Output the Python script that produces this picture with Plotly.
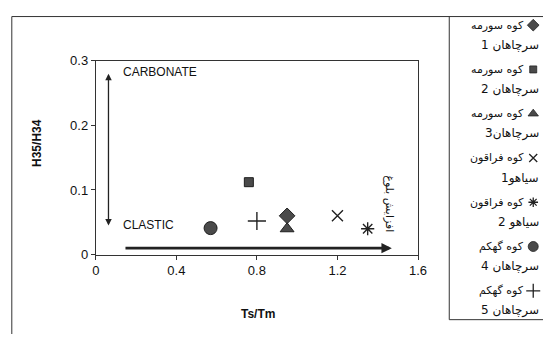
import plotly.graph_objects as go

W, H = 552, 342

# ---- data ----
names_line1 = ["کوه سورمه", "کوه سورمه", "کوه سورمه", "کوه فراقون", "کوه فراقون", "کوه گهکم", "کوه گهکم"]
names_line2 = ["سرچاهان 1", "سرچاهان 2", "سرچاهان3", "سیاهو1", "سیاهو 2", "سرچاهان 4", "سرچاهان 5"]
ts_tm = [0.95, 0.76, 0.95, 1.20, 1.35, 0.57, 0.80]
h35_h34 = [0.060, 0.112, 0.040, 0.060, 0.040, 0.041, 0.052]
symbols = ["diamond", "square", "triangle-up", "x-thin", "asterisk", "circle", "cross-thin"]
sizes = [12, 9, 12, 11, 11, 13, 13]

x_ticks = [0, 0.4, 0.8, 1.2, 1.6]
y_ticks = [0, 0.1, 0.2, 0.3]

FILL = "#4a4a4a"
EDGE = "#1e1e1e"

def px_x(p):
    return p / W

def px_y(p):
    return 1 - p / H

fig = go.Figure()

for i in range(len(ts_tm)):
    thin = symbols[i].endswith("thin") or symbols[i] == "asterisk"
    fig.add_trace(go.Scatter(
        x=[ts_tm[i]], y=[h35_h34[i]], mode="markers", showlegend=False,
        name=names_line1[i] + " " + names_line2[i],
        marker=dict(symbol=symbols[i], size=sizes[i], color=FILL,
                    line=dict(color=EDGE if not thin else "#222", width=1.4 if thin else 1)),
        xaxis="x", yaxis="y"))

# custom legend (marker right of the Persian label)
rows = list(range(len(ts_tm)))
for i in rows:
    thin = symbols[i].endswith("thin") or symbols[i] == "asterisk"
    fig.add_trace(go.Scatter(
        x=[0.5], y=[i], mode="markers", showlegend=False, hoverinfo="skip",
        marker=dict(symbol=symbols[i], size=max(sizes[i] - 3, 7), color=FILL,
                    line=dict(color="#222", width=1.3 if thin else 0.8)),
        xaxis="x2", yaxis="y2"))

# geometry (pixels)
L, R, T, B = 94, 424, 56, 259
LEG_L, LEG_T, LEG_B = 456, 10, 327
row0, row_step = 19, 46.3
pad = 0.2

fig.update_layout(
    width=W, height=H,
    margin=dict(l=0, r=0, t=0, b=0),
    paper_bgcolor="white", plot_bgcolor="white",
    font=dict(family="Liberation Sans, Arial, sans-serif", size=12, color="#111"),
    xaxis=dict(domain=[px_x(L), px_x(R)], range=[0, 1.6], tickvals=x_ticks,
               ticktext=[("%g" % v) for v in x_ticks],
               showgrid=False, zeroline=False, showline=True, linecolor="#333", linewidth=1,
               mirror=True, ticks="outside", ticklen=4, tickcolor="#333",
               tickfont=dict(size=13), anchor="y"),
    yaxis=dict(domain=[px_y(B), px_y(T)], range=[0, 0.3], tickvals=y_ticks,
               ticktext=[("%g" % v) for v in y_ticks],
               showgrid=False, zeroline=False, showline=True, linecolor="#333", linewidth=1,
               mirror=True, ticks="outside", ticklen=4, tickcolor="#333",
               tickfont=dict(size=13), anchor="x"),
    xaxis2=dict(domain=[px_x(534), px_x(550)], range=[0, 1], visible=False, anchor="y2"),
    yaxis2=dict(domain=[px_y(row0 + row_step * (6 + pad)), px_y(row0 - row_step * pad)],
                range=[6 + pad, -pad], visible=False, anchor="x2"),
)

ann = []
# axis titles
ann.append(dict(text="<b>Ts/Tm</b>", x=px_x(260), y=px_y(321), xref="paper", yref="paper",
                xanchor="center", yanchor="middle", showarrow=False, font=dict(size=12)))
ann.append(dict(text="<b>H35/H34</b>", x=px_x(34), y=px_y(142), xref="paper", yref="paper",
                xanchor="center", yanchor="middle",
                showarrow=False, textangle=-90, font=dict(size=12)))
# labels
ann.append(dict(text="CARBONATE", x=0.126, y=0.282, xref="x", yref="y", xanchor="left",
                yanchor="middle", showarrow=False, font=dict(size=12)))
ann.append(dict(text="CLASTIC", x=0.126, y=0.046, xref="x", yref="y", xanchor="left",
                yanchor="middle", showarrow=False, font=dict(size=12)))
ann.append(dict(text="افزایش بلوغ", x=1.46, y=0.078, xref="x", yref="y", textangle=90,
                xanchor="center", yanchor="middle",
                showarrow=False, font=dict(size=11, family="DejaVu Sans")))
# arrows
ann.append(dict(x=0.063, y=0.045, ax=0.063, ay=0.282, xref="x", yref="y", axref="x", ayref="y",
                text="", showarrow=True, arrowhead=2, arrowside="end+start", arrowsize=1,
                arrowwidth=1.3, arrowcolor="#222"))
ann.append(dict(x=1.47, y=0.010, ax=0.14, ay=0.010, xref="x", yref="y", axref="x", ayref="y",
                text="", showarrow=True, arrowhead=2, arrowsize=0.8,
                arrowwidth=2.6, arrowcolor="#222"))
# legend texts
for i in rows:
    y1 = row0 + row_step * i
    ann.append(dict(text=names_line1[i], x=px_x(535), y=px_y(y1), xref="paper", yref="paper",
                    xanchor="right", yanchor="middle", showarrow=False,
                    font=dict(size=11, family="DejaVu Sans", color="#111")))
    ann.append(dict(text=names_line2[i], x=px_x(550), y=px_y(y1 + 21), xref="paper", yref="paper",
                    xanchor="right", yanchor="middle", showarrow=False,
                    font=dict(size=12, family="DejaVu Sans", color="#111")))
fig.update_layout(annotations=ann)

# frames
shapes = [
    dict(type="line", xref="paper", yref="paper", x0=px_x(8), x1=1, y0=px_y(10), y1=px_y(10),
         line=dict(color="#333", width=1)),
    dict(type="line", xref="paper", yref="paper", x0=px_x(8), x1=px_x(8), y0=px_y(10), y1=0,
         line=dict(color="#333", width=1)),
    dict(type="line", xref="paper", yref="paper", x0=px_x(LEG_L), x1=px_x(LEG_L), y0=px_y(LEG_T),
         y1=px_y(LEG_B), line=dict(color="#333", width=1)),
    dict(type="line", xref="paper", yref="paper", x0=px_x(LEG_L), x1=1, y0=px_y(LEG_B),
         y1=px_y(LEG_B), line=dict(color="#333", width=1)),
]
fig.update_layout(shapes=shapes)

fig.write_html("out.html")
